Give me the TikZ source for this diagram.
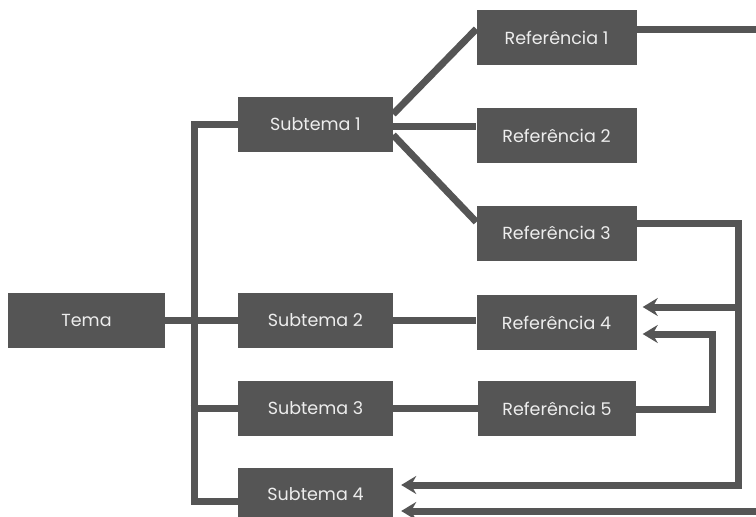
\documentclass[tikz,border=0pt]{standalone}
\usepackage{fontspec}
\setmainfont{Poppins}
\usetikzlibrary{arrows.meta}
\definecolor{boxgray}{HTML}{555555}
\definecolor{textgray}{HTML}{EDEDED}
\tikzset{
  x=1pt, y=-1pt,
  box/.style={fill=boxgray, text=textgray, inner sep=0pt,
    minimum height=55pt, font=\fontsize{17.5}{20}\selectfont},
  wide/.style={box, minimum width=160pt},
  narrow/.style={box, minimum width=155pt},
  link/.style={draw=boxgray, line width=7pt, line join=miter},
  tip/.style={link, -{Stealth[length=15pt,width=18pt,inset=5pt]}},
}
\begin{document}
\begin{tikzpicture}
\useasboundingbox (0,0) rectangle (756,517);

% topics
\node[box, minimum width=157pt] (tema) at (86.5,320.5) {Tema};
\node[narrow] (s1) at (315.5,124) {Subtema 1};
\node[narrow] (s2) at (315.5,320.5) {Subtema 2};
\node[narrow] (s3) at (315.5,408.5) {Subtema 3};
\node[narrow, minimum height=53pt] (s4) at (315.5,494) {Subtema 4};

% references
\node[wide] (r1) at (556.5,37.5) {Referência 1};
\node[wide] (r2) at (556.5,135.5) {Referência 2};
\node[wide] (r3) at (556.5,233) {Referência 3};
\node[wide] (r4) at (556.5,322.5) {Referência 4};
\node[box, minimum width=158pt] (r5) at (557,408.5) {Referência 5};

% trunk joining the topics
\coordinate (ttop) at (194,124);
\coordinate (tbot) at (194,501);
\coordinate (tmid) at (190.5,408);
\draw[link] (s1.west) -- (ttop) -- (tbot) -- (tbot -| s4.west);
\draw[link] (tema.east) -- (tema.east -| s2.west);
\draw[link] (tmid) -- (tmid -| s3.west);

% topic to reference links
\draw[link] ([yshift=10pt]s1.east) -- ([yshift=8.5pt]r1.west);
\draw[link] ([yshift=-2pt]s1.east) -- ([yshift=-2pt]s1.east -| r2.west);
\draw[link] ([yshift=-11pt]s1.east) -- ([yshift=11pt]r3.west);
\draw[link] (s2.east) -- (s2.east -| r4.west);
\draw[link] (s3.east) -- (s3.east -| r5.west);

% outgoing and returning lines
\coordinate (edge1) at (756,29);
\draw[link] ([yshift=8.5pt]r1.east) -- (edge1);

\coordinate (loopA1) at (738,223);
\coordinate (loopA2) at (738,485);
\coordinate (branchA) at (738,307);
\draw[tip] ([yshift=10pt]r3.east) -- (loopA1) -- (loopA2) -- ([xshift=8pt]s4.east |- loopA2);
\draw[tip] (branchA) -- ([xshift=6pt]r4.east |- branchA);

\coordinate (loopB1) at (712,409);
\coordinate (loopB2) at (712,334);
\draw[tip] (r5.east |- loopB1) -- (loopB1) -- (loopB2) -- ([xshift=6pt]r4.east |- loopB2);

\coordinate (edge2) at (756,511);
\draw[tip] (edge2) -- ([xshift=8pt]s4.east |- edge2);
\end{tikzpicture}
\end{document}
